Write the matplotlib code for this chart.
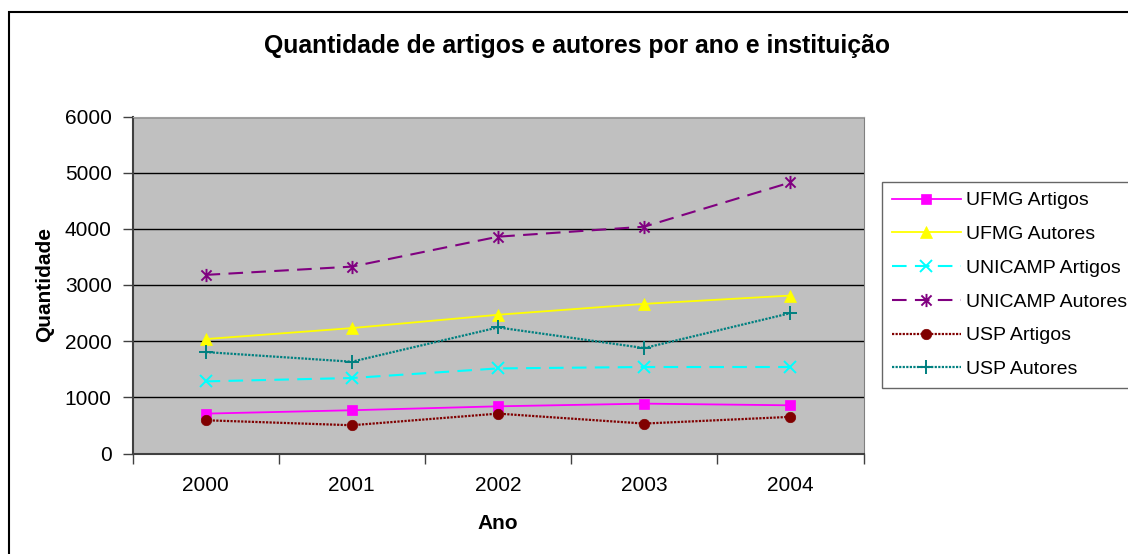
import matplotlib
matplotlib.use("Agg")
import matplotlib.pyplot as plt
from matplotlib.path import Path
from matplotlib.patches import Rectangle

plt.rcParams['font.family'] = ['Liberation Sans', 'DejaVu Sans']

anos = ['2000', '2001', '2002', '2003', '2004']
ufmg_artigos = [710, 770, 840, 888, 858]
ufmg_autores = [2037, 2233, 2470, 2664, 2812]
unicamp_artigos = [1284, 1344, 1515, 1540, 1540]
unicamp_autores = [3180, 3327, 3860, 4038, 4826]
usp_artigos = [592, 503, 710, 533, 652]
usp_autores = [1806, 1634, 2245, 1877, 2499]
y_ticks = [0, 1000, 2000, 3000, 4000, 5000, 6000]

star = Path([(-1, -1), (1, 1), (-1, 1), (1, -1), (0, -1.3), (0, 1.3)],
            [Path.MOVETO, Path.LINETO] * 3)

fig = plt.figure(figsize=(11.28, 5.54), dpi=100)
# outer chart frame
fig.patches.append(Rectangle((8.5 / 1128, -0.1), 1.2, (554 - 11.5) / 554 + 0.1,
                             transform=fig.transFigure, fill=False,
                             edgecolor='black', linewidth=1.5))

ax = fig.add_axes([132.5 / 1128, (554 - 453.5) / 554, (863.5 - 132.5) / 1128,
                   (453.5 - 116.5) / 554])
ax.set_facecolor('#c0c0c0')
x = list(range(len(anos)))

series = [
    (ufmg_artigos, 'UFMG Artigos', '#ff00ff', '-', 's', 7.5, 1.3),
    (ufmg_autores, 'UFMG Autores', '#ffff00', '-', '^', 8.5, 1.3),
    (unicamp_artigos, 'UNICAMP Artigos', '#00ffff', (0, (7, 4)), 'x', 9, 1.5),
    (unicamp_autores, 'UNICAMP Autores', '#800080', (0, (7, 4)), star, 9.5, 1.5),
    (usp_artigos, 'USP Artigos', '#800000', (0, (1, 0.6)), 'o', 7.5, 1.6),
    (usp_autores, 'USP Autores', '#008080', (0, (1, 0.6)), '+', 10, 1.6),
]
for vals, lab, col, ls, mk, ms, lw in series:
    ax.plot(x, vals, color=col, linestyle=ls, linewidth=lw, marker=mk,
            markersize=ms, markeredgewidth=1.4 if mk not in ('s', '^', 'o') else 0.5,
            markerfacecolor=col, markeredgecolor=col, label=lab)

ax.set_xlim(-0.5, len(anos) - 0.5)
ax.set_ylim(0, 6000)
ax.set_yticks(y_ticks)
ax.set_yticklabels([str(v) for v in y_ticks], fontsize=15)
ax.set_xticks(x)
ax.set_xticklabels(anos, fontsize=15)
ax.set_xticks([i - 0.5 for i in range(len(anos) + 1)], minor=True)
ax.tick_params(axis='x', which='major', length=0, pad=16)
ax.tick_params(axis='x', which='minor', length=7, width=1, color='#404040', direction='out')
ax.tick_params(axis='y', length=7, width=1, color='#404040', direction='out', pad=8)
ax.grid(axis='y', color='black', linewidth=1)
ax.set_axisbelow(True)
for side in ['left', 'bottom']:
    ax.spines[side].set_color('#404040')
    ax.spines[side].set_linewidth(1.5)
ax.spines['right'].set_color('#808080')
ax.spines['top'].set_color('#a0a0a0')

ax.set_xlabel('Ano', fontsize=15, fontweight='bold', labelpad=14)
ax.set_ylabel('Quantidade', fontsize=15, fontweight='bold', labelpad=8)

fig.text(577 / 1128, 1 - 46 / 554, 'Quantidade de artigos e autores por ano e instituição',
         ha='center', va='center', fontsize=17.8, fontweight='bold')

leg = fig.legend(loc='upper left', bbox_to_anchor=(882 / 1128, 1 - 182 / 554),
                 fontsize=14, frameon=True, fancybox=False, edgecolor='#404040',
                 handlelength=3.55, handletextpad=0.25, labelspacing=0.83,
                 borderpad=0.5, borderaxespad=0)
leg.get_frame().set_linewidth(1)

fig.savefig('out.png', dpi=100)
